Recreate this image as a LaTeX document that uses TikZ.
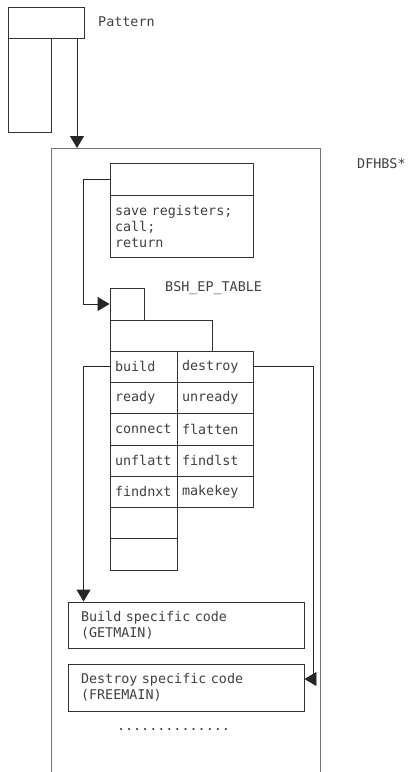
\documentclass[tikz,border=0pt]{standalone}
\usepackage{fontspec}
\setmonofont{DejaVu Sans Mono}
\usetikzlibrary{arrows.meta}

\begin{document}
\begin{tikzpicture}[x=1pt, y=-1pt]
	\tikzstyle{every node} = [font=\ttfamily\fontsize{13.4}{16}\selectfont, text=black!75, inner sep=0pt]
	\tikzstyle{box} = [draw=black!80, line width=0.9pt]
	\tikzstyle{cellA} = [box, minimum height=31.3pt, inner xsep=5pt, text width=57pt, align=left]
	\tikzstyle{cellB} = [box, minimum height=31.3pt, inner xsep=5pt, text width=66pt, align=left]
	\tikzstyle{code} = [box, inner xsep=13pt, text width=210pt, align=left]
	\tikzstyle{arr} = [draw=black!85, line width=0.9pt, -{Triangle[length=12pt, width=14pt]}]
	\useasboundingbox (0,0) rectangle (409,772);
	% pattern block
	\node[box, minimum width=76pt, minimum height=31pt] (pathead) at (46,22.5) {};
	\node[box, minimum width=43pt, minimum height=94pt] (patbody) at (29.5,85) {};
	\node[anchor=west] (patlabel) at (98,22) {Pattern};
	% DFHBS* module
	\draw[draw=black!55, line width=0.9pt] (51,772) -- (51,148) -- (320,148) -- (320,772);
	\coordinate (entry) at (77,148);
	\node[anchor=west] (modlabel) at (357,163.5) {DFHBS*};
	\draw[arr] (pathead.south -| entry) -- (entry);
	\node[box, minimum width=143pt, minimum height=32pt] (tophead) at (181.5,179) {};
	\node[box, minimum height=62pt, inner xsep=5pt, text width=133pt, align=left] (topbody) at (181.5,226) {save registers;\\call;\\return};
	% BSH_EP_TABLE
	\node[box, minimum width=34pt, minimum height=32pt] (tab) at (127,304) {};
	\node[anchor=west] (tablabel) at (165,288) {BSH\_EP\_TABLE};
	\node[box, minimum width=102pt, minimum height=31pt] (hdr) at (161,335.5) {};
	\node[cellA] (build) at (143.5,366.7) {build};
	\node[cellA] (ready) at (143.5,398) {ready};
	\node[cellA] (connect) at (143.5,429.3) {connect};
	\node[cellA] (unflatt) at (143.5,460.6) {unflatt};
	\node[cellA] (findnxt) at (143.5,491.9) {findnxt};
	\node[cellA] (spareA) at (143.5,523.2) {};
	\node[cellA] (spareB) at (143.5,554.5) {};
	\node[cellB] (destroy) at (215,366.7) {destroy};
	\node[cellB] (unready) at (215,398) {unready};
	\node[cellB] (flatten) at (215,429.3) {flatten};
	\node[cellB] (findlst) at (215,460.6) {findlst};
	\node[cellB] (makekey) at (215,491.9) {makekey};
	\draw[arr] (tophead.west) -- ++(-26,0) |- (tab.west);
	% specific code
	\node[code, minimum height=46pt] (buildcode) at (186,625) {Build specific code\\(GETMAIN)};
	\node[code, minimum height=47pt] (destroycode) at (186,687.5) {Destroy specific code\\(FREEMAIN)};
	\node[anchor=base] (dots) at (173.5,730) {..............};
	\draw[arr] (build.west) -- ++(-26,0) coordinate (bk) -- (bk |- buildcode.north);
	\draw[arr] (destroy.east) -- ++(60,0) |- ([yshift=8.5pt]destroycode.east);
\end{tikzpicture}
\end{document}
